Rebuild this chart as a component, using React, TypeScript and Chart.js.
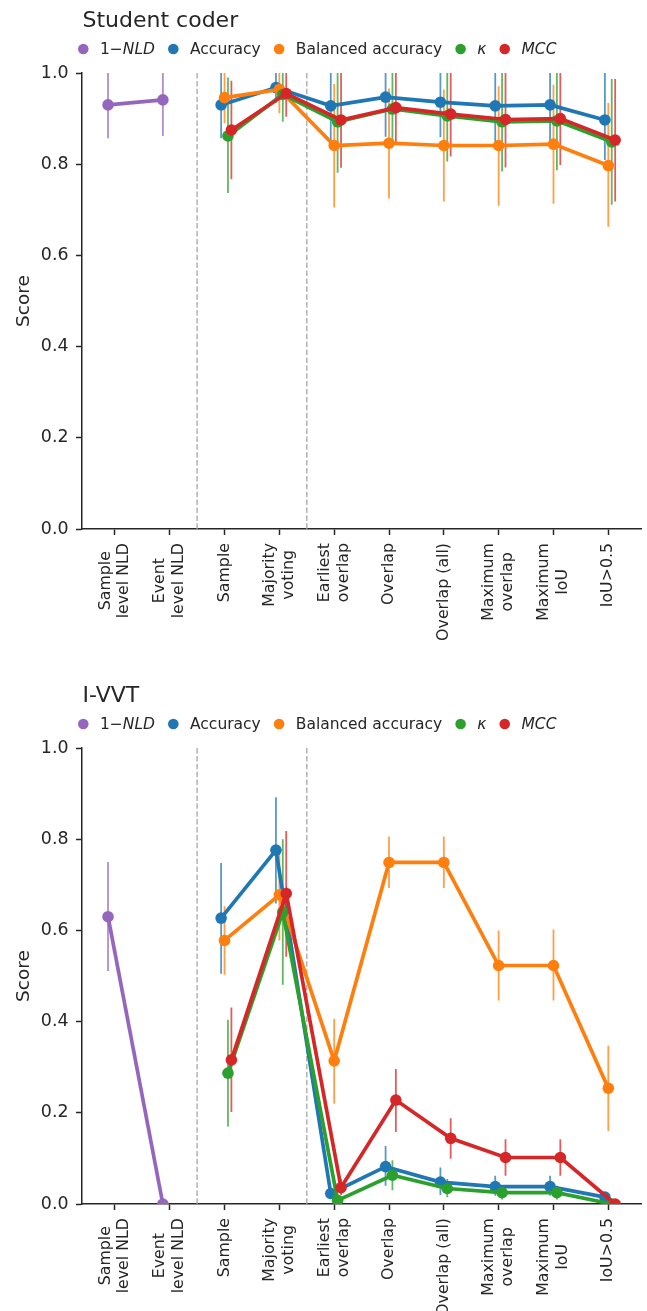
import React, { useEffect, useRef } from 'react';
import { Chart, registerables } from 'chart.js';

Chart.register(...registerables);

// ---------- data ----------
const categories: string[][] = [
  ['Sample', 'level NLD'],
  ['Event', 'level NLD'],
  ['Sample'],
  ['Majority', 'voting'],
  ['Earliest', 'overlap'],
  ['Overlap'],
  ['Overlap (all)'],
  ['Maximum', 'overlap'],
  ['Maximum', 'IoU'],
  ['IoU>0.5'],
];
const yTicks = [0, 0.2, 0.4, 0.6, 0.8, 1.0];
const separators = [1.5, 3.5];

type Part = { t: string; italic?: boolean };
const seriesLabels: Part[][] = [
  [{ t: '1\u2212' }, { t: 'NLD', italic: true }],
  [{ t: 'Accuracy' }],
  [{ t: 'Balanced accuracy' }],
  [{ t: '\u03BA', italic: true }],
  [{ t: 'MCC', italic: true }],
];
const seriesColors = ['#9467bd', '#1f77b4', '#ff7f0e', '#2ca02c', '#d62728'];
const N = null;

// Student coder
const sc_nld = [0.930, 0.941, N, N, N, N, N, N, N, N];
const sc_nld_lo = [0.857, 0.862, N, N, N, N, N, N, N, N];
const sc_nld_hi = [1.01, 1.01, N, N, N, N, N, N, N, N];
const sc_acc = [N, N, 0.930, 0.968, 0.928, 0.947, 0.936, 0.928, 0.930, 0.897];
const sc_acc_lo = [N, N, 0.857, 0.934, 0.842, 0.860, 0.859, 0.849, 0.844, 0.809];
const sc_acc_hi = [N, N, 1.01, 1.01, 1.01, 1.01, 1.01, 1.01, 1.01, 1.01];
const sc_bal = [N, N, 0.946, 0.964, 0.841, 0.846, 0.841, 0.841, 0.844, 0.797];
const sc_bal_lo = [N, N, 0.890, 0.912, 0.705, 0.725, 0.718, 0.709, 0.713, 0.663];
const sc_bal_hi = [N, N, 1.01, 1.01, 0.976, 0.966, 0.964, 0.971, 0.974, 0.934];
const sc_kap = [N, N, 0.862, 0.953, 0.893, 0.921, 0.906, 0.893, 0.895, 0.849];
const sc_kap_lo = [N, N, 0.737, 0.893, 0.781, 0.840, 0.806, 0.784, 0.787, 0.711];
const sc_kap_hi = [N, N, 0.990, 1.01, 1.01, 1.01, 1.01, 1.01, 1.01, 0.987];
const sc_mcc = [N, N, 0.875, 0.955, 0.897, 0.924, 0.910, 0.898, 0.900, 0.853];
const sc_mcc_lo = [N, N, 0.767, 0.904, 0.792, 0.845, 0.817, 0.793, 0.798, 0.718];
const sc_mcc_hi = [N, N, 0.983, 1.01, 1.01, 1.01, 1.01, 1.01, 1.01, 0.987];

// I-VVT
const iv_nld = [0.630, 0.0, N, N, N, N, N, N, N, N];
const iv_nld_lo = [0.511, 0.0, N, N, N, N, N, N, N, N];
const iv_nld_hi = [0.750, 0.0, N, N, N, N, N, N, N, N];
const iv_acc = [N, N, 0.627, 0.776, 0.023, 0.082, 0.048, 0.038, 0.038, 0.015];
const iv_acc_lo = [N, N, 0.505, 0.659, 0.015, 0.040, 0.020, 0.018, 0.018, 0.008];
const iv_acc_hi = [N, N, 0.748, 0.892, 0.032, 0.127, 0.080, 0.062, 0.062, 0.022];
const iv_bal = [N, N, 0.578, 0.678, 0.314, 0.749, 0.749, 0.523, 0.523, 0.254];
const iv_bal_lo = [N, N, 0.503, 0.578, 0.220, 0.693, 0.693, 0.446, 0.446, 0.160];
const iv_bal_hi = [N, N, 0.653, 0.770, 0.406, 0.806, 0.806, 0.600, 0.602, 0.347];
const iv_kap = [N, N, 0.287, 0.640, 0.008, 0.063, 0.034, 0.025, 0.025, 0.0];
const iv_kap_lo = [N, N, 0.170, 0.481, 0.0, 0.030, 0.015, 0.010, 0.010, 0.0];
const iv_kap_hi = [N, N, 0.404, 0.800, 0.020, 0.096, 0.055, 0.040, 0.040, 0.0];
const iv_mcc = [N, N, 0.316, 0.681, 0.036, 0.228, 0.144, 0.102, 0.102, 0.0];
const iv_mcc_lo = [N, N, 0.202, 0.542, 0.020, 0.158, 0.099, 0.062, 0.062, 0.0];
const iv_mcc_hi = [N, N, 0.431, 0.818, 0.055, 0.296, 0.188, 0.142, 0.142, 0.0];

type Series = { v: (number | null)[]; lo: (number | null)[]; hi: (number | null)[] };
const panels: { title: string; series: Series[] }[] = [
  {
    title: 'Student coder',
    series: [
      { v: sc_nld, lo: sc_nld_lo, hi: sc_nld_hi },
      { v: sc_acc, lo: sc_acc_lo, hi: sc_acc_hi },
      { v: sc_bal, lo: sc_bal_lo, hi: sc_bal_hi },
      { v: sc_kap, lo: sc_kap_lo, hi: sc_kap_hi },
      { v: sc_mcc, lo: sc_mcc_lo, hi: sc_mcc_hi },
    ],
  },
  {
    title: 'I-VVT',
    series: [
      { v: iv_nld, lo: iv_nld_lo, hi: iv_nld_hi },
      { v: iv_acc, lo: iv_acc_lo, hi: iv_acc_hi },
      { v: iv_bal, lo: iv_bal_lo, hi: iv_bal_hi },
      { v: iv_kap, lo: iv_kap_lo, hi: iv_kap_hi },
      { v: iv_mcc, lo: iv_mcc_lo, hi: iv_mcc_hi },
    ],
  },
];

// ---------- layout constants ----------
const W = 647;
const H = 675;
const FONT = '"DejaVu Sans", sans-serif';
const TEXT = '#262626';
const DODGE_STEP = 0.0625;

function Panel({ title, series }: { title: string; series: Series[] }) {
  const ref = useRef<HTMLCanvasElement | null>(null);
  useEffect(() => {
    const canvas = ref.current!;
    const nH = series.length;
    const offset = (h: number) => (h - (nH - 1) / 2) * DODGE_STEP;

    const datasets = series.map((s, h) => ({
      label: seriesLabels[h].map((p) => p.t).join(''),
      data: s.v
        .map((y, i) => (y === null ? null : { x: i + offset(h), y }))
        .filter((p) => p !== null) as { x: number; y: number }[],
      borderColor: seriesColors[h],
      backgroundColor: seriesColors[h],
      borderWidth: 3.7,
      pointRadius: 5.8,
      pointBorderWidth: 0,
      pointHoverRadius: 5.8,
      tension: 0,
      clip: 0,
      order: nH - h,
    }));

    const decor = {
      id: 'decor',
      beforeDatasetsDraw(chart: any) {
        const { ctx, chartArea, scales } = chart;
        const xs = scales.x;
        const ys = scales.y;
        ctx.save();
        ctx.beginPath();
        ctx.rect(chartArea.left, chartArea.top, chartArea.right - chartArea.left, chartArea.bottom - chartArea.top);
        ctx.clip();
        // separators
        ctx.strokeStyle = '#b3b3b3';
        ctx.lineWidth = 1.5;
        ctx.setLineDash([5.5, 2.4]);
        separators.forEach((sv) => {
          const px = xs.getPixelForValue(sv);
          ctx.beginPath();
          ctx.moveTo(px, chartArea.top);
          ctx.lineTo(px, chartArea.bottom);
          ctx.stroke();
        });
        ctx.setLineDash([]);
        // error bars
        ctx.lineWidth = 1.8;
        ctx.globalAlpha = 0.75;
        series.forEach((s, h) => {
          ctx.strokeStyle = seriesColors[h];
          s.v.forEach((y, i) => {
            const lo = s.lo[i];
            const hi = s.hi[i];
            if (y === null || lo === null || hi === null) return;
            const px = xs.getPixelForValue(i + offset(h));
            ctx.beginPath();
            ctx.moveTo(px, ys.getPixelForValue(lo));
            ctx.lineTo(px, ys.getPixelForValue(hi));
            ctx.stroke();
          });
        });
        ctx.restore();
      },
      afterDraw(chart: any) {
        const { ctx, chartArea, scales } = chart;
        const xs = scales.x;
        ctx.save();
        ctx.fillStyle = TEXT;
        // title
        ctx.font = `22px ${FONT}`;
        ctx.textAlign = 'left';
        ctx.textBaseline = 'alphabetic';
        ctx.fillText(title, chartArea.left + 0.5, 26.7);
        // legend
        let lx = chartArea.left + 1.3;
        const ly = 49;
        seriesLabels.forEach((parts, h) => {
          ctx.fillStyle = seriesColors[h];
          ctx.beginPath();
          ctx.arc(lx, ly, 5.3, 0, Math.PI * 2);
          ctx.fill();
          let tx = lx + 16.7;
          ctx.fillStyle = TEXT;
          parts.forEach((p) => {
            ctx.font = `${p.italic ? 'italic ' : ''}15.5px ${FONT}`;
            ctx.fillText(p.t, tx, ly + 5);
            tx += ctx.measureText(p.t).width;
          });
          lx = tx + 18.3;
        });
        // y label
        ctx.font = `18.5px ${FONT}`;
        ctx.textAlign = 'center';
        ctx.textBaseline = 'alphabetic';
        ctx.save();
        ctx.translate(28.5, (chartArea.top + chartArea.bottom) / 2);
        ctx.rotate(-Math.PI / 2);
        ctx.fillText('Score', 0, 0);
        ctx.restore();
        // x tick labels
        const fs = 15.8;
        const lh = fs * 1.2;
        ctx.font = `${fs}px ${FONT}`;
        const top = chartArea.bottom + 14;
        categories.forEach((lines, i) => {
          const px = xs.getPixelForValue(i);
          const maxW = Math.max(...lines.map((l) => ctx.measureText(l).width));
          ctx.save();
          ctx.translate(px, top + maxW / 2);
          ctx.rotate(-Math.PI / 2);
          ctx.textAlign = 'center';
          ctx.textBaseline = 'middle';
          lines.forEach((l, j) => {
            ctx.fillText(l, 0, (j - (lines.length - 1) / 2) * lh);
          });
          ctx.restore();
        });
        ctx.restore();
      },
    };

    const chart = new Chart(canvas, {
      type: 'line',
      data: { datasets: datasets as any },
      options: {
        animation: false,
        responsive: false,
        devicePixelRatio: 1,
        events: [],
        layout: { padding: { top: 73, right: 4, left: 0, bottom: 0 } },
        plugins: { legend: { display: false }, title: { display: false }, tooltip: { enabled: false } },
        scales: {
          x: {
            type: 'linear',
            min: -0.6,
            max: 9.6,
            afterBuildTicks: (s: any) => {
              s.ticks = categories.map((_, i) => ({ value: i }));
            },
            afterFit: (s: any) => {
              s.height = H - 529;
            },
            ticks: { display: false },
            grid: { drawOnChartArea: false, drawTicks: true, tickLength: 6, tickWidth: 1.5, tickColor: TEXT },
            border: { display: true, color: TEXT, width: 1.5 },
          },
          y: {
            type: 'linear',
            min: 0,
            max: 1,
            afterBuildTicks: (s: any) => {
              s.ticks = yTicks.map((v) => ({ value: v }));
            },
            afterFit: (s: any) => {
              s.width = 82;
            },
            ticks: {
              callback: (v: any) => Number(v).toFixed(1),
              font: { family: FONT, size: 17.4 },
              color: TEXT,
              padding: 7.5,
            },
            grid: { drawOnChartArea: false, drawTicks: true, tickLength: 6, tickWidth: 1.5, tickColor: TEXT },
            border: { display: true, color: TEXT, width: 1.5 },
          },
        },
      } as any,
      plugins: [decor],
    });
    return () => chart.destroy();
  }, [title, series]);

  return <canvas ref={ref} width={W} height={H} style={{ display: 'block', width: W, height: H }} />;
}

export default function App() {
  return (
    <div
      style={{
        position: 'absolute',
        left: 0,
        top: 0,
        width: W,
        height: 1311,
        overflow: 'hidden',
        background: '#fff',
      }}
    >
      {panels.map((p, k) => (
        <div key={k} style={{ position: 'absolute', left: 0, top: k * H, width: W, height: H }}>
          <Panel title={p.title} series={p.series} />
        </div>
      ))}
    </div>
  );
}
